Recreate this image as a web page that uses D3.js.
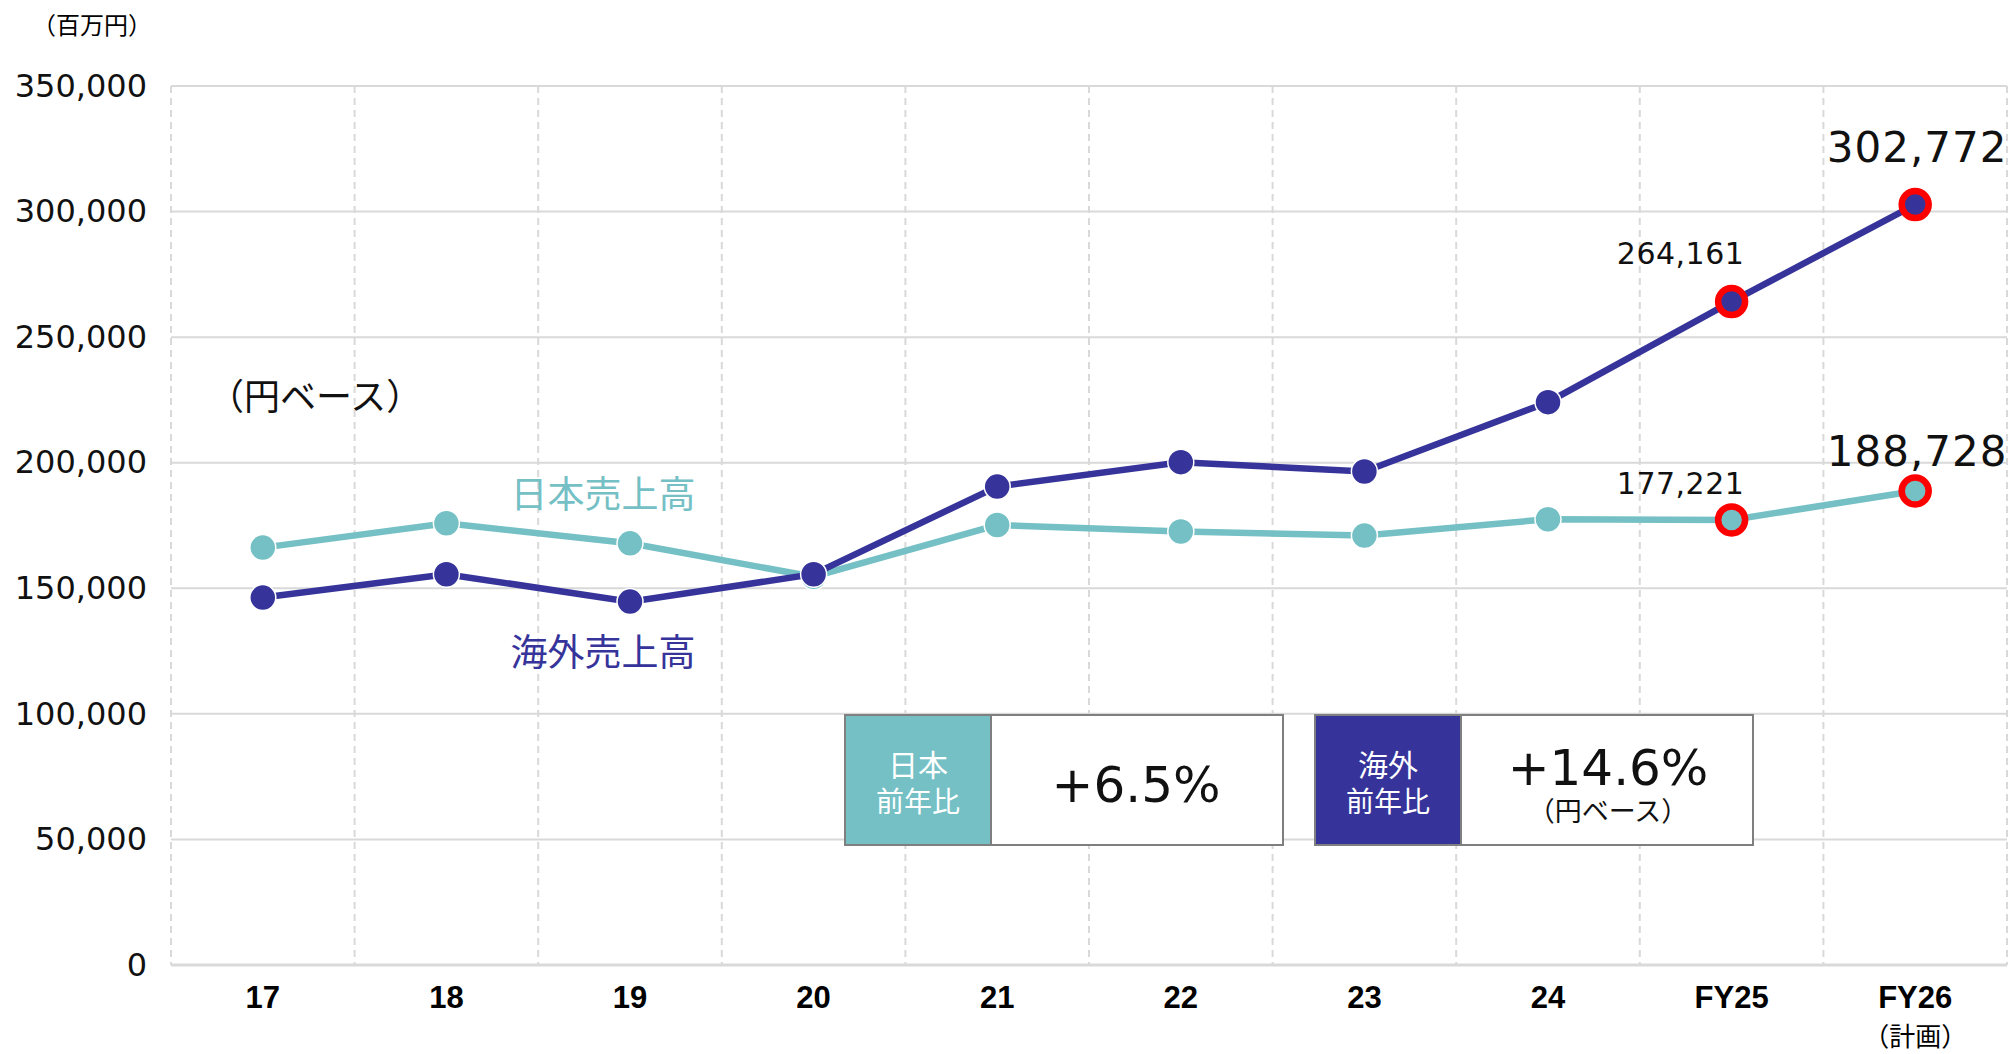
<!DOCTYPE html>
<html>
<head>
<meta charset="utf-8">
<script src="https://cdn.jsdelivr.net/npm/d3@7"></script>
<style>
  body { margin: 0; background: #fff; }
  .jp { font-family: 'Noto Sans CJK JP', sans-serif; }
  .num { font-family: 'DejaVu Sans', sans-serif; }
</style>
</head>
<body>
<div id="chart"></div>
<script>
let categories = ['17', '18', '19', '20', '21', '22', '23', '24', 'FY25', 'FY26']
let japanSales = [166200, 175900, 167900, 154600, 175200, 172600, 171000, 177500, 177221, 188728]
let overseasSales = [146300, 155600, 144700, 155600, 190500, 200200, 196500, 224100, 264161, 302772]
let yTicks = [0, 50000, 100000, 150000, 200000, 250000, 300000, 350000]
let highlighted = ['FY25', 'FY26']

let japanColor = '#74c0c5'
let overseasColor = '#36349a'

let margin = { top: 86, left: 171, right: 8, bottom: 89 }
let width = 2015 - margin.left - margin.right
let height = 1054 - margin.top - margin.bottom

let svg = d3
  .select('#chart')
  .append('svg')
  .attr('width', 2015)
  .attr('height', 1054)
  .append('g')
  .attr('transform', 'translate(' + margin.left + ',' + margin.top + ')')

let xPositionScale = d3.scaleBand().domain(categories).range([0, width])
let yPositionScale = d3.scaleLinear().domain([0, 350000]).range([height, 0])
let cx = d => xPositionScale(d) + xPositionScale.bandwidth() / 2

// grid
svg
  .selectAll('.hgrid')
  .data(yTicks)
  .enter()
  .append('line')
  .attr('x1', 0)
  .attr('x2', width)
  .attr('y1', d => yPositionScale(d))
  .attr('y2', d => yPositionScale(d))
  .attr('stroke', '#d9d9d9')
  .attr('stroke-width', d => (d === 0 ? 3 : 2))

let boundaries = categories.map(c => xPositionScale(c)).concat([width])
svg
  .selectAll('.vgrid')
  .data(boundaries)
  .enter()
  .append('line')
  .attr('x1', d => d)
  .attr('x2', d => d)
  .attr('y1', 0)
  .attr('y2', height)
  .attr('stroke', '#d9d9d9')
  .attr('stroke-width', 2)
  .attr('stroke-dasharray', '7,5')

// axes
let yAxis = d3
  .axisLeft(yPositionScale)
  .tickValues(yTicks)
  .tickSize(0)
  .tickPadding(24)
  .tickFormat(d3.format(','))
svg
  .append('g')
  .call(yAxis)
  .call(g => g.select('.domain').remove())
  .selectAll('text')
  .attr('class', 'num')
  .attr('font-family', null)
  .attr('font-size', 32)
  .attr('fill', '#111')

let xAxis = d3.axisBottom(xPositionScale).tickSize(0)
svg
  .append('g')
  .attr('transform', 'translate(0,' + height + ')')
  .call(xAxis)
  .call(g => g.select('.domain').remove())
  .selectAll('text')
  .attr('y', 43)
  .attr('dy', null)
  .attr('font-family', "'Liberation Sans', Arial, sans-serif")
  .attr('font-weight', 'bold')
  .attr('font-size', 31)
  .attr('fill', '#000')

svg
  .append('text')
  .attr('class', 'jp')
  .attr('x', cx('FY26'))
  .attr('y', 1046 - margin.top)
  .attr('text-anchor', 'middle')
  .attr('font-size', 26)
  .text('（計画）')

svg
  .append('text')
  .attr('class', 'jp')
  .attr('x', 92 - margin.left)
  .attr('y', 34 - margin.top)
  .attr('text-anchor', 'middle')
  .attr('font-size', 24)
  .text('（百万円）')

// lines
let line = d3
  .line()
  .x((d, i) => cx(categories[i]))
  .y(d => yPositionScale(d))

let series = [
  { name: 'japan', values: japanSales, color: japanColor },
  { name: 'overseas', values: overseasSales, color: overseasColor }
]

series.forEach(s => {
  svg
    .append('path')
    .datum(s.values)
    .attr('d', line)
    .attr('fill', 'none')
    .attr('stroke', s.color)
    .attr('stroke-width', 6.5)

  svg
    .selectAll('.dot-' + s.name)
    .data(s.values)
    .enter()
    .append('circle')
    .attr('cx', (d, i) => cx(categories[i]))
    .attr('cy', d => yPositionScale(d))
    .attr('r', (d, i) => (highlighted.includes(categories[i]) ? 13.5 : 13))
    .attr('fill', s.color)
    .attr('stroke', (d, i) => (highlighted.includes(categories[i]) ? '#ff0000' : '#fff'))
    .attr('stroke-width', (d, i) => (highlighted.includes(categories[i]) ? 6.5 : 1.5))
})

// value labels for FY25 / FY26
let labelData = [
  { cat: 'FY25', value: overseasSales[8], size: 30, dx: -51, dy: -38 },
  { cat: 'FY25', value: japanSales[8], size: 30, dx: -51, dy: -26 },
  { cat: 'FY26', value: overseasSales[9], size: 42, dx: 2, dy: -43 },
  { cat: 'FY26', value: japanSales[9], size: 42, dx: 2, dy: -25 }
]
svg
  .selectAll('.vlabel')
  .data(labelData)
  .enter()
  .append('text')
  .attr('class', 'num')
  .attr('x', d => cx(d.cat) + d.dx)
  .attr('y', d => yPositionScale(d.value) + d.dy)
  .attr('text-anchor', 'middle')
  .attr('font-size', d => d.size)
  .attr('letter-spacing', d => (d.size > 40 ? 1 : 0.5))
  .attr('fill', '#111')
  .text(d => d3.format(',')(d.value))

// annotations
svg
  .append('text')
  .attr('class', 'jp')
  .attr('x', 208 - margin.left)
  .attr('y', 410 - margin.top)
  .attr('font-size', 36)
  .attr('fill', '#111')
  .text('（円ベース）')

svg
  .append('text')
  .attr('class', 'jp')
  .attr('x', 603 - margin.left)
  .attr('y', 508 - margin.top)
  .attr('text-anchor', 'middle')
  .attr('font-size', 37)
  .attr('fill', japanColor)
  .text('日本売上高')

svg
  .append('text')
  .attr('class', 'jp')
  .attr('x', 603 - margin.left)
  .attr('y', 666 - margin.top)
  .attr('text-anchor', 'middle')
  .attr('font-size', 37)
  .attr('fill', overseasColor)
  .text('海外売上高')

// growth boxes
let boxes = [
  { x: 845, label: ['日本', '前年比'], color: japanColor, value: '+6.5%', sub: null },
  { x: 1315, label: ['海外', '前年比'], color: overseasColor, value: '+14.6%', sub: '（円ベース）' }
]
let boxG = svg
  .selectAll('.box')
  .data(boxes)
  .enter()
  .append('g')
  .attr('transform', d => 'translate(' + (d.x - margin.left) + ',' + (715 - margin.top) + ')')

boxG
  .append('rect')
  .attr('width', 438)
  .attr('height', 130)
  .attr('fill', '#fff')
  .attr('stroke', '#7f7f7f')
  .attr('stroke-width', 2)
boxG
  .append('rect')
  .attr('width', 146)
  .attr('height', 130)
  .attr('fill', d => d.color)
  .attr('stroke', '#7f7f7f')
  .attr('stroke-width', 2)

let labelText = boxG
  .append('text')
  .attr('class', 'jp')
  .attr('text-anchor', 'middle')
  .attr('fill', '#fff')
labelText
  .append('tspan')
  .attr('x', 73)
  .attr('y', 61)
  .attr('font-size', 30)
  .text(d => d.label[0])
labelText
  .append('tspan')
  .attr('x', 73)
  .attr('y', 97)
  .attr('font-size', 28)
  .text(d => d.label[1])

let valueText = boxG
  .append('text')
  .attr('text-anchor', 'middle')
  .attr('fill', '#111')
valueText
  .append('tspan')
  .attr('class', 'num')
  .attr('x', d => (d.sub ? 293 : 291))
  .attr('y', d => (d.sub ? 70 : 87))
  .attr('font-size', 50)
  .text(d => d.value)
valueText
  .filter(d => d.sub)
  .append('tspan')
  .attr('class', 'jp')
  .attr('x', 293)
  .attr('y', 106)
  .attr('font-size', 27)
  .text(d => d.sub)
</script>
</body>
</html>
